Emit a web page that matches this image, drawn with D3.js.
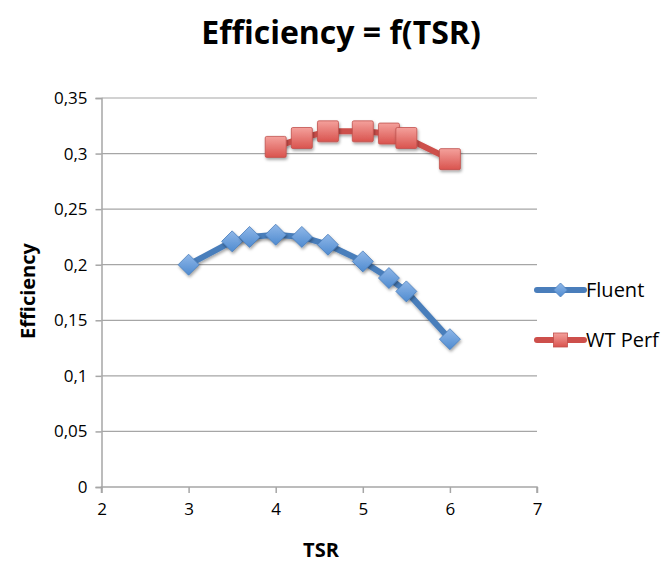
<!DOCTYPE html>
<html><head><meta charset="utf-8">
<script src="https://cdn.jsdelivr.net/npm/d3@7/dist/d3.min.js"></script>
<style>body{margin:0;background:#fff}svg{display:block}text{font-family:"Open Sans",sans-serif}</style>
</head><body>
<svg id="c" width="670" height="563"></svg>
<script>
const titleText = "Efficiency = f(TSR)";
const xLabel = "TSR";
const yLabel = "Efficiency";
const xTicks = [2,3,4,5,6,7];
const yTicks = [0,0.05,0.1,0.15,0.2,0.25,0.3,0.35];
const fluentX = [3,3.5,3.7,4,4.3,4.6,5,5.3,5.5,6];
const fluentY = [0.2,0.221,0.225,0.227,0.225,0.218,0.203,0.188,0.176,0.133];
const wtX = [4,4.3,4.6,5,5.3,5.5,6];
const wtY = [0.306,0.314,0.320,0.320,0.318,0.314,0.295];
const seriesNames = ["Fluent","WT Perf"];

const svg = d3.select("#c");
const x = d3.scaleLinear().domain([2,7]).range([101.5,537]);
const y = d3.scaleLinear().domain([0,0.35]).range([487,98]);
const fmt = d => String(d).replace(".", ",");

const defs = svg.append("defs");
const gb = defs.append("linearGradient").attr("id","gb").attr("x1",0).attr("y1",0).attr("x2",0).attr("y2",1);
gb.append("stop").attr("offset",0).attr("stop-color","#8fb7e8");
gb.append("stop").attr("offset",1).attr("stop-color","#4f8bd0");
const gr = defs.append("linearGradient").attr("id","gr").attr("x1",0).attr("y1",0).attr("x2",0).attr("y2",1);
gr.append("stop").attr("offset",0).attr("stop-color","#f4a19c");
gr.append("stop").attr("offset",1).attr("stop-color","#d9534e");
const sh = defs.append("filter").attr("id","sh").attr("x","-50%").attr("y","-50%").attr("width","200%").attr("height","200%");
sh.append("feDropShadow").attr("dx",1).attr("dy",2).attr("stdDeviation",1.5).attr("flood-color","#000").attr("flood-opacity",0.35);

// gridlines
svg.append("g").selectAll("line").data(yTicks.filter(d=>d>0)).join("line")
  .attr("x1",x(2)).attr("x2",x(7)).attr("y1",d=>y(d)).attr("y2",d=>y(d))
  .attr("stroke","#a6a6a6").attr("stroke-width",1.2);

// axes
const yAxis = d3.axisLeft(y).tickValues(yTicks).tickFormat(fmt).tickSize(6).tickPadding(8);
const gy = svg.append("g").attr("transform",`translate(${x(2)},0)`).call(yAxis);
const xAxis = d3.axisBottom(x).tickValues(xTicks).tickFormat(d3.format("d")).tickSize(6).tickPadding(10);
const gx = svg.append("g").attr("transform",`translate(0,${y(0)})`).call(xAxis);
[gx,gy].forEach(g=>{
  g.select(".domain").attr("stroke","#a6a6a6").attr("stroke-width",1.5);
  g.selectAll(".tick line").attr("stroke","#a6a6a6").attr("stroke-width",1.5);
  g.selectAll(".tick text").attr("fill","#000").style("font-size","17px").style("font-family","'Open Sans', sans-serif");
});
gx.select(".domain").attr("d",`M${x(2)},6V0H${x(7)}V6`);

// lines
const line = d3.line().x(d=>x(d[0])).y(d=>y(d[1]));
const fl = fluentX.map((v,i)=>[v,fluentY[i]]);
const wt = wtX.map((v,i)=>[v,wtY[i]]);
svg.append("path").datum(fl).attr("d",line).attr("fill","none").attr("stroke","#4a7ebb").attr("stroke-width",6).attr("stroke-linejoin","round").attr("filter","url(#sh)");
svg.append("path").datum(wt).attr("d",line).attr("fill","none").attr("stroke","#cd4f4b").attr("stroke-width",6).attr("stroke-linejoin","round").attr("filter","url(#sh)");

const diamond = s => `M0,${-s}L${s},0L0,${s}L${-s},0Z`;
svg.append("g").selectAll("path").data(fl).join("path")
  .attr("transform",d=>`translate(${x(d[0])},${y(d[1])})`)
  .attr("d",diamond(10.5)).attr("fill","url(#gb)").attr("stroke","#4a7ebb").attr("stroke-width",0.8).attr("filter","url(#sh)");
svg.append("g").selectAll("rect").data(wt).join("rect")
  .attr("x",d=>x(d[0])-10.5).attr("y",d=>y(d[1])-10.5).attr("width",21).attr("height",21).attr("rx",1.5)
  .attr("fill","url(#gr)").attr("stroke","#c0504d").attr("stroke-width",0.8).attr("filter","url(#sh)");

// title & labels
svg.append("text").attr("x",341).attr("y",44).attr("text-anchor","middle")
  .style("font-size","32px").style("font-weight","bold").text(titleText);
svg.append("text").attr("x",321).attr("y",557).attr("text-anchor","middle")
  .style("font-size","20px").style("font-weight","bold").text(xLabel);
svg.append("text").attr("transform","translate(35,291) rotate(-90)").attr("text-anchor","middle")
  .style("font-size","20px").style("font-weight","bold").text(yLabel);

// legend
const leg = svg.append("g");
const legY = [290,340];
const legCol = ["#4a7ebb","#cd4f4b"];
seriesNames.forEach((n,i)=>{
  const g = leg.append("g").attr("transform",`translate(537,${legY[i]})`);
  g.append("line").attr("x1",0).attr("x2",47).attr("stroke",legCol[i]).attr("stroke-width",6).attr("stroke-linecap","round");
  if(i===0) g.append("path").attr("transform","translate(23.5,0)").attr("d",diamond(7)).attr("fill","url(#gb)").attr("stroke","#4a7ebb").attr("stroke-width",0.8);
  else g.append("rect").attr("x",16.5).attr("y",-7).attr("width",14).attr("height",14).attr("fill","url(#gr)").attr("stroke","#c0504d").attr("stroke-width",0.8);
  g.append("text").attr("x",49).attr("y",7).style("font-size","20px").text(n);
});
</script>
</body></html>
